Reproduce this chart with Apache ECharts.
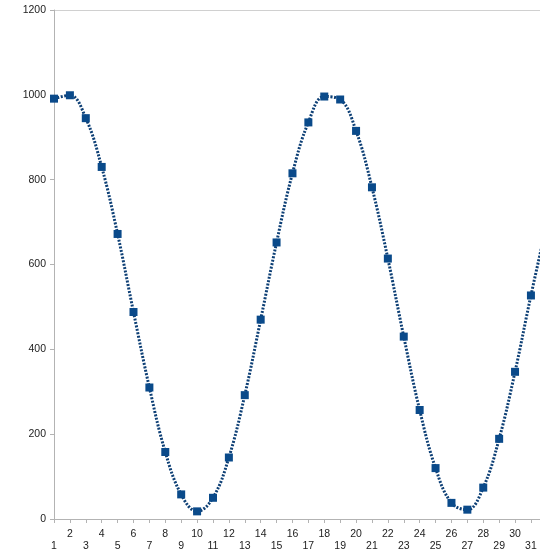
<!DOCTYPE html>
<html>
<head>
<meta charset="utf-8">
<script src="https://cdn.jsdelivr.net/npm/echarts@6/dist/echarts.min.js"></script>
<style>html,body{margin:0;padding:0;background:#fff}#c{width:540px;height:559px}</style>
</head>
<body>
<div id="c"></div>
<script>
var days = [1,2,3,4,5,6,7,8,9,10,11,12,13,14,15,16,17,18,19,20,21,22,23,24,25,26,27,28,29,30,31,32];
var values = [991,999,945,830,672,488,310,158,58,18,50,145,292,470,652,815,935,996,989,915,782,614,430,257,120,38,22,74,189,347,527,695];
var yTicks = [0,200,400,600,800,1000,1200];

var chart = echarts.init(document.getElementById('c'), null, {renderer:'canvas'});
chart.setOption({
  animation:false,
  backgroundColor:'#fff',
  grid:{left:54, right:0, top:10, bottom:40, containLabel:false},
  xAxis:{
    type:'value', min:1, max:31.57, interval:1,
    axisLine:{show:true, lineStyle:{color:'#b3b3b3', width:1}},
    axisTick:{show:true, length:4, lineStyle:{color:'#b3b3b3'}},
    splitLine:{show:false},
    axisLabel:{
      color:'#222', fontSize:10.5, fontFamily:'Liberation Sans', margin:9, lineHeight:12,
      showMaxLabel:false,
      formatter:function(v){
        if (Math.abs(v-Math.round(v))>1e-6 || days.indexOf(v)<0) return '';
        return (v%2===1) ? '\n'+v : ''+v;
      }
    }
  },
  yAxis:{
    type:'value', min:yTicks[0], max:yTicks[yTicks.length-1], interval:200,
    axisLine:{show:true, lineStyle:{color:'#b3b3b3', width:1}},
    axisTick:{show:true, length:4, lineStyle:{color:'#b3b3b3'}},
    splitLine:{show:true, lineStyle:{color:['rgba(0,0,0,0)','rgba(0,0,0,0)','rgba(0,0,0,0)','rgba(0,0,0,0)','rgba(0,0,0,0)','rgba(0,0,0,0)','#d0d0d0'], width:1}},
    axisLabel:{color:'#222', fontSize:10.5, fontFamily:'Liberation Sans', margin:8,
      formatter:function(v){return String(v);}}
  },
  series:[{
    type:'line',
    data:days.map(function(d,i){return [d, values[i]];}),
    smooth:0.4,
    clip:true,
    symbol:'rect',
    symbolSize:8,
    itemStyle:{color:'#0a4a8a'},
    lineStyle:{color:'#0d3f75', width:3, type:[2,1.5]}
  }]
});
</script>
</body>
</html>
